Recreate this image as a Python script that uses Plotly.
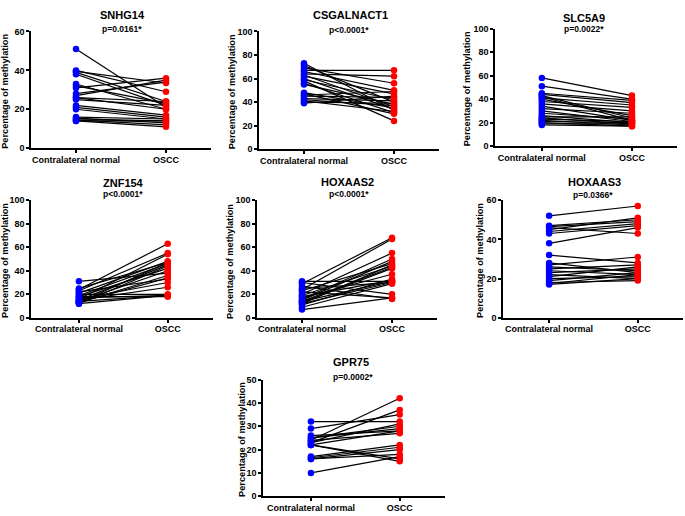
import plotly.graph_objects as go

# ---------------- data ----------------
categories = ["Contralateral normal", "OSCC"]

genes = ["SNHG14", "CSGALNACT1", "SLC5A9", "ZNF154", "HOXAAS2", "HOXAAS3", "GPR75"]
pvalues = ["p=0.0161*", "p<0.0001*", "p=0.0022*", "p<0.0001*", "p<0.0001*", "p=0.0366*", "p=0.0002*"]

snhg14_normal = [51, 40, 39.5, 39, 38, 33, 32, 31, 28, 27, 26, 26, 25, 22, 21, 20, 16, 15.5, 15, 14.5, 14, 14]
snhg14_oscc = [21, 29, 33.5, 24, 22, 20, 23, 36, 34, 35, 24, 20, 22, 17, 16, 15, 15, 13, 14, 12, 11, 14]

csgalnact1_normal = [73, 71, 69, 67, 66, 64, 63, 62, 60, 59, 58, 56, 55, 48, 47, 46, 45, 43, 42, 41, 40, 39]
csgalnact1_oscc = [33, 40, 56, 67, 50, 62, 36, 47, 34, 42, 24, 31, 38, 35, 30, 49, 44, 41, 37, 32, 39, 45]

slc5a9_normal = [58, 51, 45, 44, 43, 42, 41, 40, 38, 36, 34, 32, 30, 28, 26, 25, 24, 23, 22, 21, 20, 19, 18]
slc5a9_oscc = [43, 40, 39, 37, 24, 22, 35, 26, 33, 30, 22, 28, 21, 23, 20, 25, 19, 21, 18, 20, 17, 19, 17]

znf154_normal = [31, 25, 24, 23, 22, 21, 20, 19, 18, 18, 17, 16, 16, 15, 15, 14, 14, 13, 13, 12, 12, 13]
znf154_oscc = [38, 47, 63, 55, 33, 48, 20, 46, 42, 18, 19, 54, 30, 26, 45, 40, 19, 47, 36, 19, 44, 34]

hoxaas2_normal = [31, 30, 29, 27, 25, 24, 23, 22, 20, 19, 18, 17, 16, 15, 14, 14, 13, 12, 12, 11, 9, 7]
hoxaas2_oscc = [31, 20, 68, 16, 30, 67, 46, 17, 55, 44, 32, 37, 50, 48, 31, 43, 42, 30, 45, 33, 29, 17]

hoxaas3_normal = [52, 47, 46.5, 46, 45, 44, 43, 38, 32, 28, 27, 26, 25, 24, 23, 22, 21, 20, 19, 18, 17.5, 17]
hoxaas3_oscc = [57, 50, 49, 43, 51, 48, 47, 46, 28, 23, 31, 24, 27, 22, 25, 20, 26, 21, 23, 19, 22, 20]

gpr75_normal = [32, 29, 26, 25, 24, 24, 23, 22, 22, 17, 16.5, 16, 16, 10, 23, 25, 22]
gpr75_oscc = [32, 35, 28, 29, 42, 27, 31, 15, 16, 22, 21, 20, 18, 17, 37, 30, 28]

y_max = [60, 100, 100, 100, 100, 60, 50]
y_step = [20, 20, 20, 20, 20, 20, 10]

normals = [snhg14_normal, csgalnact1_normal, slc5a9_normal, znf154_normal,
           hoxaas2_normal, hoxaas3_normal, gpr75_normal]
osccs = [snhg14_oscc, csgalnact1_oscc, slc5a9_oscc, znf154_oscc,
         hoxaas2_oscc, hoxaas3_oscc, gpr75_oscc]

# ---------------- layout (pixel boxes) ----------------
W, H = 685, 516
# x0, x1, ytop, ybottom, xrange_left, xrange_right
boxes = [
    (31, 211, 27, 146, -0.5, 1.5),
    (259, 439, 27, 147, -0.5, 1.5),
    (495, 677, 24, 144, -0.52, 1.5),
    (31, 213, 199, 319, -0.54, 1.51),
    (257, 437, 199, 319, -0.5, 1.5),
    (503, 683, 199, 319, -0.52, 1.51),
    (263, 445, 382, 501, -0.54, 1.51),
]
title_pos = [(122, 10), (350, 10), (584, 13), (123, 182), (347, 181), (594, 181), (351, 364)]
p_pos = [(122, 24), (349, 25), (584, 24), (123, 193), (349, 193), (593, 194), (353, 379)]
ytitle_x = [5, 232, 467, 5, 230, 480, 242]

FONT = "Liberation Sans, Arial, sans-serif"

fig = go.Figure()
annotations = []

for i in range(len(genes)):
    x0, x1, yt, yb, rl, rr = boxes[i]
    ax = "" if i == 0 else str(i + 1)
    xs, ys = [], []
    for a, b in zip(normals[i], osccs[i]):
        xs += [0, 1, None]
        ys += [a, b, None]
    fig.add_trace(go.Scatter(x=xs, y=ys, mode="lines",
                             line=dict(color="black", width=1.2),
                             xaxis="x" + ax, yaxis="y" + ax,
                             hoverinfo="skip", showlegend=False))
    fig.add_trace(go.Scatter(x=[0] * len(normals[i]), y=normals[i], mode="markers",
                             marker=dict(color="#0000FF", size=6.5),
                             xaxis="x" + ax, yaxis="y" + ax, showlegend=False,
                             cliponaxis=False))
    fig.add_trace(go.Scatter(x=[1] * len(osccs[i]), y=osccs[i], mode="markers",
                             marker=dict(color="#FF0000", size=6.5),
                             xaxis="x" + ax, yaxis="y" + ax, showlegend=False,
                             cliponaxis=False))

    fig.layout["xaxis" + ax] = dict(
        domain=[x0 / W, x1 / W], anchor="y" + ax, range=[rl, rr],
        tickvals=[0, 1], ticktext=categories,
        showline=True, linecolor="black", linewidth=1.5,
        ticks="outside", ticklen=3, tickwidth=1.5, tickcolor="black",
        ticklabelstandoff=-1,
        showgrid=False, zeroline=False, fixedrange=True,
        tickfont=dict(family=FONT, size=9, color="black", weight="bold"),
    )
    fig.layout["yaxis" + ax] = dict(
        domain=[1 - yb / H, 1 - yt / H], anchor="x" + ax, range=[0, y_max[i]],
        tickmode="linear", tick0=0, dtick=y_step[i],
        showline=True, linecolor="black", linewidth=1.5,
        ticks="outside", ticklen=3, tickwidth=1.5, tickcolor="black",
        showgrid=False, zeroline=False, fixedrange=True,
        tickfont=dict(family=FONT, size=9, color="black", weight="bold"),
    )

    tx, ty = title_pos[i]
    annotations.append(dict(x=tx / W, y=1 - ty / H, xref="paper", yref="paper",
                            text="<b>" + genes[i] + "</b>", showarrow=False,
                            xanchor="center", yanchor="middle",
                            font=dict(family=FONT, size=11, color="black")))
    px_, py_ = p_pos[i]
    annotations.append(dict(x=px_ / W, y=1 - py_ / H, xref="paper", yref="paper",
                            text="<b>" + pvalues[i] + "</b>", showarrow=False,
                            xanchor="center", yanchor="middle",
                            font=dict(family=FONT, size=8.5, color="black")))
    annotations.append(dict(x=ytitle_x[i] / W, y=1 - ((yt + yb) / 2 + 2) / H,
                            xref="paper", yref="paper",
                            text="<b>Percentage of methylation</b>", showarrow=False,
                            textangle=-90, xanchor="center", yanchor="middle",
                            font=dict(family=FONT, size=9.2, color="black")))

fig.update_layout(
    width=W, height=H, autosize=False,
    margin=dict(l=0, r=0, t=0, b=0),
    paper_bgcolor="white", plot_bgcolor="white",
    annotations=annotations, showlegend=False,
)

fig.write_html(
    "out.html",
    config={"displayModeBar": False},
    post_script="document.body.style.margin='0px';document.body.style.overflow='hidden';",
)
